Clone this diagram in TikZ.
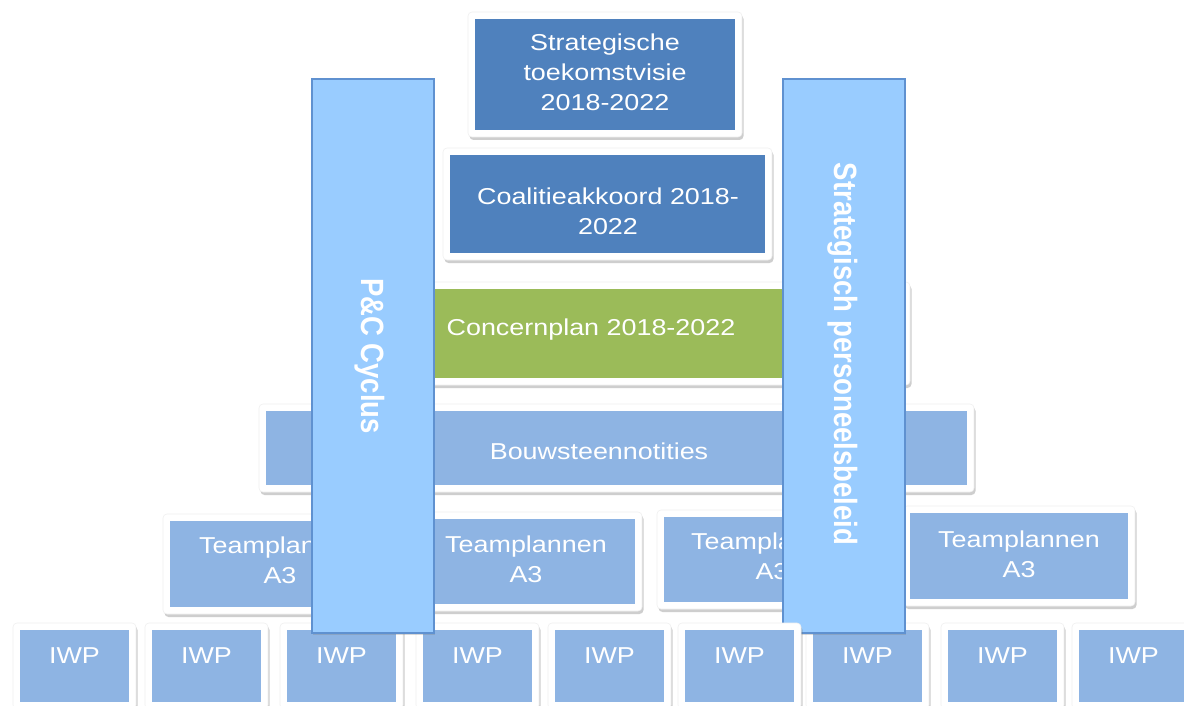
\documentclass[tikz,border=0pt]{standalone}
\usepackage{graphicx}
\usepackage{fontspec}
\setmainfont{Liberation Sans}
\usetikzlibrary{shadows}

\definecolor{dkblue}{HTML}{4F81BD}
\definecolor{grn}{HTML}{9BBB59}
\definecolor{ltblue}{HTML}{8EB4E3}
\definecolor{barfill}{HTML}{99CCFF}
\definecolor{barline}{HTML}{5F91D0}

\tikzset{
  frame/.style={fill=white, draw=black!6, line width=0.6pt, rounded corners=4pt,
    inner sep=0pt, outer sep=0pt,
    drop shadow={shadow xshift=1.5pt, shadow yshift=-3pt, opacity=0.35, fill=black!55}},
  panel/.style={fill=#1, draw=none, inner sep=0pt, outer sep=0pt},
  lbl/.style={text=white, inner sep=0pt, font=\fontsize{23}{30}\selectfont},
  bar/.style={fill=barfill, draw=barline, line width=1.2pt, inner sep=0pt,
    drop shadow={shadow xshift=1pt, shadow yshift=-2pt, opacity=0.3}},
  barlbl/.style={text=white, inner sep=0pt, font=\fontsize{27.5}{30}\selectfont\bfseries},
}

% framed block: name, centre x, centre y, inner width, inner height, colour
\newcommand\blk[6]{%
  \node[frame, minimum width=#4+14, minimum height=#5+14] (#1f) at (#2,#3) {};
  \node[panel=#6, minimum width=#4, minimum height=#5] (#1) at (#2,#3) {};
}
% horizontally widened, centred lines of text
\newcommand\wtext[1]{\scalebox{1.17}[1]{\begin{tabular}{@{}c@{}}#1\end{tabular}}}
% widened text running from top to bottom
\newcommand\vtext[1]{\scalebox{1.17}[1]{\rotatebox{-90}{#1}}}

\begin{document}
\begin{tikzpicture}[x=1pt, y=-1pt]
\path[use as bounding box, clip] (0,0) rectangle (1184,706);
\fill[white] (0,0) rectangle (1184,706);

% upper layers
\blk{vis}{605}{74.5}{260}{111}{dkblue}
\node[lbl] (visT) at (605,75) {\wtext{Strategische\\toekomstvisie\\2018-2022}};

\blk{coa}{607.5}{204}{315}{98}{dkblue}
\node[lbl] (coaT) at (608,213) {\wtext{Coalitieakkoord 2018-\\2022}};

\blk{con}{668}{333.5}{470}{89}{grn}
\node[lbl] (conT) at (591,329) {\wtext{Concernplan 2018-2022}};

\blk{bou}{616.5}{448}{701}{74}{ltblue}
\node[lbl] (bouT) at (599,453) {\wtext{Bouwsteennotities}};

% team plans
\blk{tp1}{280}{564}{220}{86}{ltblue}
\node[lbl] (tp1T) at (280,562) {\wtext{Teamplannen\\A3}};
\blk{tp2}{526}{561.5}{218}{85}{ltblue}
\node[lbl] (tp2T) at (526,561) {\wtext{Teamplannen\\A3}};
\blk{tp3}{772}{559.5}{216}{85}{ltblue}
\node[lbl] (tp3T) at (772,558) {\wtext{Teamplannen\\A3}};
\blk{tp4}{1019}{556}{218}{86}{ltblue}
\node[lbl] (tp4T) at (1019,556) {\wtext{Teamplannen\\A3}};

% individual work plans
\foreach \i/\cx in {1/74.5, 2/206.5, 3/341.5, 4/477.5, 5/609.5, 7/867.5, 8/1002.5, 9/1133.5} {
  \blk{iwp\i}{\cx}{666}{109}{72}{ltblue}
  \node[lbl] (iwp\i T) at (\cx,657) {\wtext{IWP}};
}

% vertical bars
\node[bar, minimum width=122, minimum height=554] (pc) at (373,356) {};
\node[barlbl] (pcT) at (370,356) {\vtext{P\&C Cyclus}};
\node[bar, minimum width=122, minimum height=554] (sp) at (844,356) {};
\node[barlbl] (spT) at (843,354) {\vtext{Strategisch personeelsbeleid}};

% work plan lying over the right bar
\blk{iwp6}{739.5}{666}{109}{72}{ltblue}
\node[lbl] (iwp6T) at (739.5,657) {\wtext{IWP}};
\end{tikzpicture}
\end{document}
